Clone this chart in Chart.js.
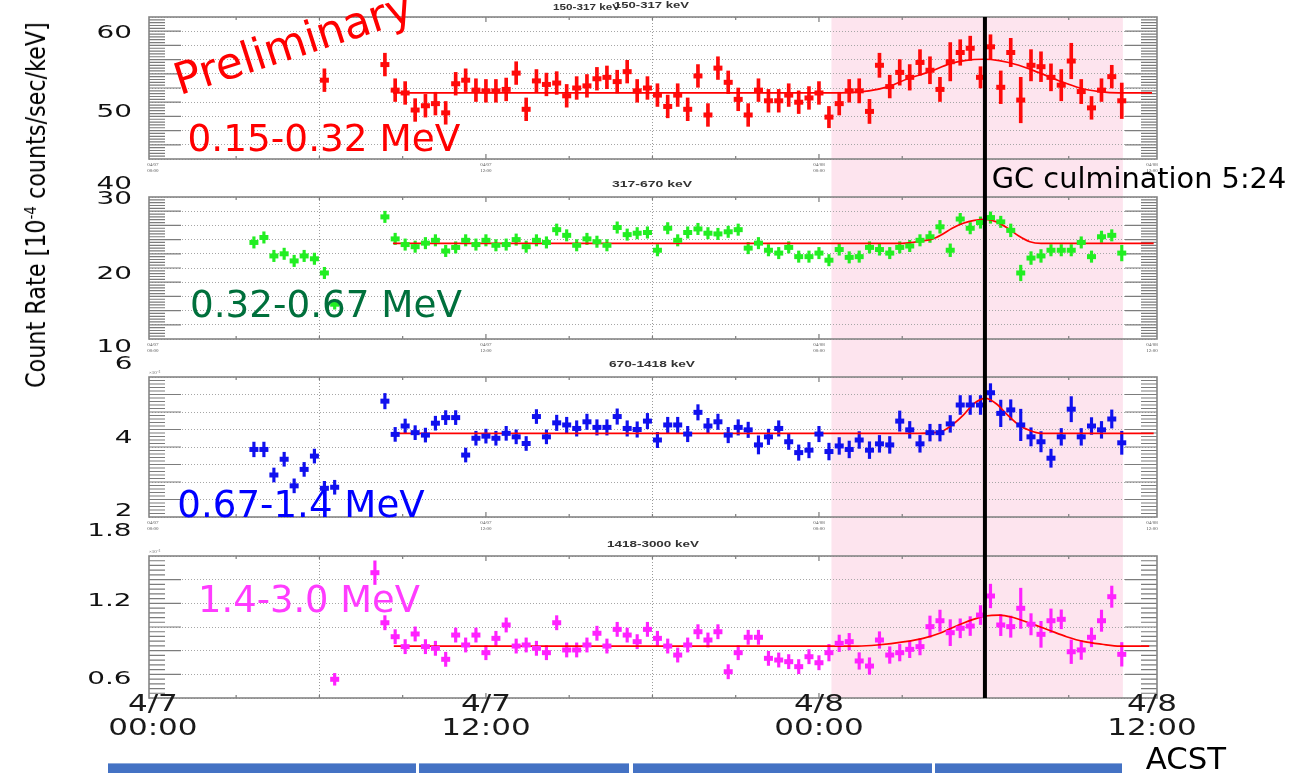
<!DOCTYPE html>
<html>
<head>
<meta charset="utf-8">
<script src="https://cdn.jsdelivr.net/npm/chart.js@4/dist/chart.umd.min.js"></script>
<style>
  html, body { margin: 0; padding: 0; background: #fff; }
  #wrap { position: relative; width: 1306px; height: 773px; overflow: hidden; background: #fff; }
  #wrap canvas { position: absolute; left: 0; }
  .ov { position: absolute; left: 0; top: 0; white-space: nowrap; line-height: 1; }
  .ov sup { font-size: 0.6em; vertical-align: 0.55em; line-height: 0; }
  .band { position: absolute; top: 763px; height: 10px; background: #4472c4; border-top: 1px solid #8eaadb; box-sizing: border-box; }
</style>
</head>
<body>
<div id="wrap">
  <canvas id="p1" width="1306" height="180" style="top:0px"></canvas>
  <canvas id="p2" width="1306" height="180" style="top:180px"></canvas>
  <canvas id="p3" width="1306" height="180" style="top:360px"></canvas>
  <canvas id="p4" width="1306" height="233" style="top:540px"></canvas>
</div>
<script>
// time bins, hours after 4/7 00:00 ACST
const hours = [
  3.64, 4.00, 4.36, 4.73, 5.09, 5.45, 5.82, 6.18, 6.55, 6.91,
  7.27, 7.64, 8.00, 8.36, 8.73, 9.09, 9.45, 9.82, 10.18, 10.55,
  10.91, 11.27, 11.64, 12.00, 12.36, 12.73, 13.09, 13.45, 13.82, 14.18,
  14.55, 14.91, 15.27, 15.64, 16.00, 16.36, 16.73, 17.09, 17.45, 17.82,
  18.18, 18.55, 18.91, 19.27, 19.64, 20.00, 20.36, 20.73, 21.09, 21.45,
  21.82, 22.18, 22.55, 22.91, 23.27, 23.64, 24.00, 24.36, 24.73, 25.09,
  25.45, 25.82, 26.18, 26.55, 26.91, 27.27, 27.64, 28.00, 28.36, 28.73,
  29.09, 29.45, 29.82, 30.18, 30.55, 30.91, 31.27, 31.64, 32.00, 32.36,
  32.73, 33.09, 33.45, 33.82, 34.18, 34.55, 34.91
];

// 0.15-0.32 MeV (150-317 keV)
const rate1 = [
  null, null, null, null, null, null, null, 53.1, null, null,
  null, null, null, 55.3, 51.7, 51.3, 48.9, 49.5, 49.8, 48.5,
  52.6, 53.1, 51.7, 51.6, 51.6, 51.8, 54.1, 49.0, 53.0, 52.5,
  52.7, 50.9, 52.0, 52.3, 53.3, 53.5, 52.9, 54.3, 51.6, 52.0,
  51.0, 49.4, 51.0, 49.0, 53.7, 48.2, 54.8, 52.8, 50.4, 48.2,
  51.7, 50.2, 50.2, 51.0, 50.0, 50.6, 51.3, 47.9, 49.8, 51.6,
  51.6, 48.7, 55.2, 52.2, 54.2, 53.5, 55.6, 54.5, 51.8, 55.7,
  57.0, 57.6, 53.5, 57.8, 52.1, 57.0, 50.3, 55.2, 55.0, 53.5,
  52.4, 55.8, 51.5, 49.2, 51.7, 53.6, 50.2
];
const err1 = [
  null, null, null, null, null, null, null, 1.6, null, null,
  null, null, null, 1.6, 1.6, 1.6, 1.6, 1.6, 1.6, 1.6,
  1.6, 1.6, 1.6, 1.6, 1.6, 1.6, 1.6, 1.6, 1.6, 1.6,
  1.6, 1.6, 1.6, 1.6, 1.6, 1.6, 1.6, 1.6, 1.6, 1.6,
  1.6, 1.6, 1.6, 1.6, 1.6, 1.6, 1.6, 1.6, 1.6, 1.6,
  1.6, 1.6, 1.6, 1.6, 1.6, 1.6, 1.6, 1.5, 1.6, 1.6,
  1.7, 1.7, 1.7, 1.6, 1.8, 1.8, 1.8, 1.9, 1.7, 2.7,
  1.8, 1.7, 1.5, 1.7, 2.3, 2.0, 3.2, 2.2, 2.1, 1.9,
  2.2, 2.5, 1.7, 1.6, 1.6, 1.6, 2.5
];
const fit1Hours = [8.65, 24.0, 25.0, 25.8, 26.5, 27.2, 28.0, 28.7, 29.3, 29.9, 30.5, 31.2, 31.9, 32.6, 33.4, 34.1, 34.8, 36.0];
const fit1Values = [51.3, 51.3, 51.35, 51.6, 52.2, 53.3, 54.3, 55.4, 55.9, 56.05, 55.85, 55.2, 54.2, 53.1, 52.0, 51.5, 51.3, 51.3];

// 0.32-0.67 MeV (317-670 keV)
const rate2 = [
  23.6, 24.3, 21.7, 22.0, 21.0, 21.7, 21.3, 19.3, 14.9, null,
  null, null, null, 27.2, 24.1, 23.3, 23.0, 23.5, 23.9, 22.4,
  22.9, 23.9, 23.3, 23.9, 23.2, 23.3, 24.0, 23.0, 23.9, 23.6,
  25.4, 24.6, 23.2, 24.1, 23.7, 23.2, 25.7, 24.7, 24.9, 25.0,
  22.5, 25.6, 23.9, 25.0, 25.5, 24.9, 24.8, 25.1, 25.4, 22.8,
  23.5, 22.5, 22.1, 22.9, 21.6, 21.6, 22.1, 21.1, 22.6, 21.5,
  21.6, 22.9, 22.6, 22.1, 22.9, 23.1, 23.9, 24.4, 25.8, 22.5,
  26.9, 25.6, 26.4, 27.1, 26.5, 25.3, 19.3, 21.4, 21.7, 22.5,
  22.5, 22.5, 23.6, 21.6, 24.4, 24.6, 22.1
];
const err2 = [
  0.8, 0.8, 0.8, 0.8, 0.8, 0.8, 0.8, 0.8, 0.7, null,
  null, null, null, 0.8, 0.8, 0.8, 0.8, 0.8, 0.8, 0.8,
  0.8, 0.8, 0.8, 0.8, 0.8, 0.8, 0.8, 0.8, 0.8, 0.8,
  0.8, 0.8, 0.8, 0.8, 0.8, 0.8, 0.8, 0.8, 0.8, 0.8,
  0.8, 0.8, 0.8, 0.8, 0.8, 0.8, 0.8, 0.8, 0.8, 0.8,
  0.8, 0.8, 0.8, 0.8, 0.8, 0.8, 0.8, 0.8, 0.8, 0.8,
  0.8, 0.8, 0.8, 0.8, 0.8, 0.8, 0.8, 0.8, 0.9, 0.9,
  0.8, 0.8, 0.8, 0.8, 0.8, 0.9, 1.1, 0.9, 0.9, 0.8,
  0.8, 0.8, 0.8, 0.8, 0.8, 0.8, 1.1
];
const fit2Hours = [8.65, 27.0, 27.7, 28.1, 28.4, 28.8, 29.2, 29.6, 30.0, 30.4, 30.8, 31.2, 31.6, 32.0, 36.06];
const fit2Values = [23.48, 23.48, 23.8, 24.1, 24.65, 25.6, 26.3, 26.7, 26.86, 26.5, 25.6, 24.5, 23.7, 23.48, 23.48];

// 0.67-1.4 MeV (670-1418 keV)
const rate3 = [
  3.93, 3.93, 3.20, 3.65, 2.89, 3.36, 3.74, 2.82, 2.85, null,
  null, null, null, 5.31, 4.36, 4.60, 4.41, 4.34, 4.68, 4.84,
  4.84, 3.77, 4.25, 4.31, 4.25, 4.39, 4.29, 4.10, 4.87, 4.29,
  4.69, 4.63, 4.53, 4.72, 4.56, 4.56, 4.87, 4.53, 4.50, 4.74,
  4.20, 4.63, 4.63, 4.37, 4.99, 4.60, 4.72, 4.34, 4.56, 4.49,
  4.06, 4.29, 4.53, 4.15, 3.84, 3.91, 4.37, 3.87, 4.03, 3.93,
  4.20, 3.91, 4.09, 4.06, 4.74, 4.49, 4.09, 4.41, 4.41, 4.66,
  5.20, 5.20, 5.20, 5.55, 4.96, 5.06, 4.63, 4.29, 4.15, 3.68,
  4.29, 5.08, 4.29, 4.60, 4.49, 4.80, 4.12
];
const err3 = [
  0.21, 0.21, 0.2, 0.2, 0.2, 0.2, 0.2, 0.2, 0.2, null,
  null, null, null, 0.22, 0.2, 0.2, 0.2, 0.2, 0.2, 0.2,
  0.2, 0.2, 0.2, 0.2, 0.2, 0.2, 0.2, 0.2, 0.2, 0.2,
  0.22, 0.22, 0.22, 0.22, 0.22, 0.22, 0.22, 0.22, 0.22, 0.22,
  0.22, 0.22, 0.22, 0.22, 0.22, 0.22, 0.22, 0.22, 0.22, 0.22,
  0.26, 0.22, 0.22, 0.22, 0.22, 0.22, 0.22, 0.24, 0.24, 0.24,
  0.24, 0.24, 0.24, 0.24, 0.29, 0.24, 0.24, 0.24, 0.24, 0.24,
  0.27, 0.27, 0.27, 0.26, 0.38, 0.29, 0.45, 0.26, 0.29, 0.26,
  0.24, 0.36, 0.24, 0.24, 0.24, 0.26, 0.33
];
const fit3Hours = [8.65, 27.6, 28.4, 28.8, 29.2, 29.6, 30.0, 30.4, 30.8, 31.2, 31.6, 32.0, 36.06];
const fit3Values = [4.39, 4.39, 4.44, 4.63, 4.91, 5.25, 5.39, 5.23, 4.91, 4.63, 4.47, 4.39, 4.39];

// 1.4-3.0 MeV (1418-3000 keV)
const rate4 = [
  null, null, null, null, null, null, null, null, 0.558, null,
  null, null, 1.459, 1.036, 0.918, 0.834, 0.941, 0.834, 0.820, 0.727,
  0.932, 0.848, 0.932, 0.783, 0.904, 1.017, 0.839, 0.848, 0.820, 0.783,
  1.036, 0.806, 0.806, 0.848, 0.947, 0.839, 0.980, 0.932, 0.876, 0.980,
  0.904, 0.839, 0.763, 0.848, 0.960, 0.890, 0.960, 0.622, 0.783, 0.913,
  0.913, 0.735, 0.721, 0.707, 0.665, 0.749, 0.698, 0.783, 0.862, 0.876,
  0.713, 0.670, 0.890, 0.763, 0.783, 0.811, 0.834, 1.003, 1.053, 0.952,
  0.989, 1.008, 1.101, 1.262, 1.017, 1.003, 1.158, 1.023, 0.938, 1.053,
  1.065, 0.791, 0.806, 0.913, 1.053, 1.256, 0.769
];
const err4 = [
  null, null, null, null, null, null, null, null, 0.05, null,
  null, null, 0.1, 0.06, 0.06, 0.06, 0.06, 0.06, 0.06, 0.06,
  0.06, 0.06, 0.06, 0.06, 0.06, 0.06, 0.06, 0.06, 0.06, 0.06,
  0.06, 0.06, 0.06, 0.06, 0.06, 0.06, 0.06, 0.06, 0.06, 0.06,
  0.06, 0.06, 0.06, 0.06, 0.06, 0.06, 0.06, 0.06, 0.06, 0.06,
  0.06, 0.06, 0.06, 0.06, 0.06, 0.06, 0.06, 0.07, 0.07, 0.07,
  0.07, 0.07, 0.07, 0.07, 0.07, 0.07, 0.07, 0.09, 0.09, 0.11,
  0.08, 0.08, 0.08, 0.1, 0.09, 0.09, 0.17, 0.09, 0.11, 0.1,
  0.08, 0.1, 0.08, 0.08, 0.09, 0.09, 0.1
];
const fit4Hours = [8.68, 25.4, 26.1, 27.1, 27.75, 28.4, 29.03, 29.68, 30.0, 30.49, 30.97, 31.62, 32.27, 32.92, 33.56, 34.2, 34.85, 35.9];
const fit4Values = [0.839, 0.839, 0.848, 0.876, 0.904, 0.952, 1.017, 1.073, 1.093, 1.101, 1.082, 1.031, 0.975, 0.918, 0.876, 0.854, 0.839, 0.839];

// time axis
const tickHours = [0, 12, 24, 36];
const smallTickLabels = [['04/07', '00:00'], ['04/07', '12:00'], ['04/08', '00:00'], ['04/08', '12:00']];
const bigTickLabels = [['4/7', '00:00'], ['4/7', '12:00'], ['4/8', '00:00'], ['4/8', '12:00']];
const minorTickHours = [3, 6, 9, 12, 15, 18, 21, 24, 27, 30, 33];
const pinkStart = 24.45, pinkEnd = 34.95;   // shaded window
const culmination = 29.98;                  // GC culmination marker

const panelDecor = {
  id: 'panelDecor',
  beforeDraw(chart, args, o) {
    const {ctx, chartArea: a, scales: {x}} = chart;
    const x1 = x.getPixelForValue(pinkStart), x2 = x.getPixelForValue(pinkEnd);
    const top = o.extendTop ? 0 : a.top;
    const bottom = o.extendBottom ? chart.height : a.bottom;
    ctx.save();
    ctx.fillStyle = '#fde4ee';
    ctx.fillRect(x1, top, x2 - x1, bottom - top);
    ctx.restore();
  },
  beforeDatasetsDraw(chart, args, o) {
    const {ctx, chartArea: a, scales: {x, y}} = chart;
    ctx.save();
    ctx.strokeStyle = '#7c7c7c';
    ctx.lineWidth = 1.2;
    ctx.beginPath();
    // inside tick marks, 5 small per grid step
    const n = Math.round((y.max - y.min) / o.step) * 5;
    for (let j = 1; j < n; j++) {
      const py = y.getPixelForValue(y.min + (y.max - y.min) * j / n);
      const len = j % 5 === 0 ? 32 : 16;
      ctx.moveTo(a.left, py); ctx.lineTo(a.left + len, py);
      ctx.moveTo(a.right - len, py); ctx.lineTo(a.right, py);
    }
    minorTickHours.forEach(h => {
      const px = x.getPixelForValue(h);
      const len = h % 12 === 0 ? 5 : 3;
      ctx.moveTo(px, a.top); ctx.lineTo(px, a.top + len);
      ctx.moveTo(px, a.bottom); ctx.lineTo(px, a.bottom - len);
    });
    ctx.stroke();
    ctx.lineWidth = 1.6;
    ctx.strokeStyle = '#858585';
    ctx.strokeRect(a.left, a.top, a.right - a.left, a.bottom - a.top);
    ctx.restore();
  },
  afterDatasetsDraw(chart, args, o) {
    const {ctx, chartArea: a, scales: {x}} = chart;
    const px = x.getPixelForValue(culmination);
    ctx.save();
    ctx.strokeStyle = '#000';
    ctx.lineWidth = 4;
    ctx.beginPath();
    ctx.moveTo(px, o.extendTop ? 0 : a.top);
    ctx.lineTo(px, o.extendBottom ? chart.height : a.bottom);
    ctx.stroke();
    ctx.restore();
  },
  afterDraw(chart, args, o) {
    const {ctx, chartArea: a, scales: {x}} = chart;
    ctx.save();
    ctx.fillStyle = '#333';
    ctx.font = 'bold 9px "Liberation Sans", Arial, sans-serif';
    ctx.textBaseline = 'middle';
    (o.titles || []).forEach(t => {
      const w = ctx.measureText(t.text).width;
      ctx.save();
      ctx.translate(t.x, t.y);
      ctx.scale(t.w / w, 1);
      ctx.fillText(t.text, 0, 0);
      ctx.restore();
    });
    if (o.exponent) {
      ctx.font = '5px "Liberation Serif", serif';
      ctx.fillStyle = '#666';
      ctx.fillText(o.exponent, a.left, a.top - 4);
    }
    if (o.bigLabels) {
      ctx.font = '23px "DejaVu Sans", sans-serif';
      ctx.fillStyle = '#1a1a1a';
      ctx.textAlign = 'center';
      tickHours.forEach((h, i) => {
        ctx.save();
        ctx.translate(x.getPixelForValue(h), a.bottom + 7);
        ctx.scale(1.35, 1);
        ctx.fillText(o.bigLabels[i][0], 0, 0);
        ctx.fillText(o.bigLabels[i][1], 0, 24);
        ctx.restore();
      });
    }
    ctx.restore();
  }
};

function makePanel(canvasId, p) {
  const bars = [], marks = [];
  hours.forEach((h, i) => {
    if (p.values[i] == null) return;
    bars.push({x: h, y: [p.values[i] - p.errors[i], p.values[i] + p.errors[i]]});
    marks.push({x: h, y: p.values[i]});
  });
  const fit = p.fitHours.map((h, i) => ({x: h, y: p.fitValues[i]}));

  return new Chart(document.getElementById(canvasId), {
    type: 'scatter',
    data: {
      datasets: [
        { type: 'bar', data: bars, backgroundColor: p.color, borderWidth: 0, barThickness: p.barWidth, order: 2 },
        { type: 'line', data: fit, borderColor: '#ff0000', borderWidth: 1.7, pointRadius: 0,
          cubicInterpolationMode: 'monotone', fill: false, order: 1 },
        { type: 'scatter', data: marks, pointStyle: 'line', pointRadius: 4.5, pointBorderWidth: 5,
          pointBorderColor: p.color, pointBackgroundColor: p.color, borderColor: p.color, order: 0 }
      ]
    },
    options: {
      responsive: false,
      animation: false,
      events: [],
      layout: { padding: { top: p.padTop, right: 149, bottom: 0, left: 0 } },
      plugins: {
        legend: { display: false },
        tooltip: { enabled: false },
        panelDecor: {
          step: p.step, extendTop: p.extendTop, extendBottom: p.extendBottom,
          titles: p.titles, exponent: p.exponent, bigLabels: p.bigLabels
        }
      },
      scales: {
        x: {
          type: 'linear', min: -0.14, max: 36.18, offset: false,
          afterBuildTicks: s => { s.ticks = tickHours.map(v => ({value: v})); },
          afterFit: s => { s.height = p.xHeight; },
          grid: {
            drawTicks: false, lineWidth: 1,
            color: c => (c.tick && (c.tick.value === 12 || c.tick.value === 24)) ? '#9a9a9a' : 'rgba(0,0,0,0)'
          },
          border: { display: false, dash: [1, 2] },
          ticks: {
            display: !p.bigLabels, autoSkip: false, maxRotation: 0, padding: 3, color: '#555',
            font: { family: 'Liberation Serif', size: 5, lineHeight: 1.2 },
            callback: (v, i) => smallTickLabels[i]
          }
        },
        y: {
          min: p.yMin, max: p.yMax,
          afterFit: s => { s.width = 149; },
          ticks: { display: false, stepSize: p.step },
          grid: { drawTicks: false, color: '#a6a6a6', lineWidth: 1 },
          border: { display: false, dash: [1, 2] }
        }
      }
    },
    plugins: [panelDecor]
  });
}

makePanel('p1', {
  values: rate1, errors: err1, fitHours: fit1Hours, fitValues: fit1Values, color: '#ff0a0a', barWidth: 3,
  yMin: 42, yMax: 62, step: 2, padTop: 17, xHeight: 21, extendTop: false, extendBottom: true,
  titles: [{text: '150-317 keV', x: 553, y: 8, w: 67}, {text: '150-317 keV', x: 614, y: 6, w: 75}]
});
makePanel('p2', {
  values: rate2, errors: err2, fitHours: fit2Hours, fitValues: fit2Values, color: '#22ee22', barWidth: 2.5,
  yMin: 10, yMax: 30, step: 2, padTop: 17, xHeight: 21, extendTop: true, extendBottom: true,
  titles: [{text: '317-670 keV', x: 612, y: 5, w: 80}]
});
makePanel('p3', {
  values: rate3, errors: err3, fitHours: fit3Hours, fitValues: fit3Values, color: '#1010ee', barWidth: 2.5,
  yMin: 2, yMax: 6, step: 0.5, padTop: 17, xHeight: 23, extendTop: true, extendBottom: true,
  titles: [{text: '670-1418 keV', x: 609, y: 5, w: 86}], exponent: '\u00d710\u207b\u00b3'
});
makePanel('p4', {
  values: rate4, errors: err4, fitHours: fit4Hours, fitValues: fit4Values, color: '#ff22ff', barWidth: 2.5,
  yMin: 0.4, yMax: 1.6, step: 0.2, padTop: 16, xHeight: 75, extendTop: true, extendBottom: false,
  titles: [{text: '1418-3000 keV', x: 607, y: 5, w: 92}], exponent: '\u00d710\u207b\u00b3',
  bigLabels: bigTickLabels
});

// slide overlays
const wrap = document.getElementById('wrap');
function overlay(html, o) {
  const el = document.createElement('div');
  el.className = 'ov';
  el.innerHTML = html;
  el.style.font = o.font;
  el.style.color = o.color || '#000';
  wrap.appendChild(el);
  const s = o.width ? o.width / el.offsetWidth : 1;
  el.style.left = o.cx + 'px';
  el.style.top = o.cy + 'px';
  el.style.transform = 'translate(-50%, -50%) rotate(' + (o.angle || 0) + 'deg) scaleX(' + s + ')';
  return el;
}
function axisNumber(text, cy) {
  const el = document.createElement('div');
  el.className = 'ov';
  el.textContent = text;
  el.style.font = '18px/1 "DejaVu Sans", sans-serif';
  el.style.color = '#111';
  wrap.appendChild(el);
  el.style.left = (132 - el.offsetWidth) + 'px';
  el.style.top = (cy - el.offsetHeight / 2) + 'px';
  el.style.transformOrigin = '100% 50%';
  el.style.transform = 'scaleX(1.55)';
}

overlay('Count Rate [10<sup>-4</sup> counts/sec/keV]',
  {cx: 36, cy: 205, angle: -90, width: 366, font: '26px/1 "DejaVu Sans", sans-serif'});
overlay('Preliminary',
  {cx: 293, cy: 43, angle: -17.9, width: 247, font: '44px/1 "DejaVu Sans", sans-serif', color: '#ff0000'});
overlay('0.15-0.32 MeV', {cx: 324, cy: 138, width: 273, font: '37px/1 "DejaVu Sans", sans-serif', color: '#ff0000'});
overlay('0.32-0.67 MeV', {cx: 326, cy: 304, width: 272, font: '37px/1 "DejaVu Sans", sans-serif', color: '#00703c'});
overlay('0.67-1.4 MeV', {cx: 301, cy: 504, width: 247, font: '37px/1 "DejaVu Sans", sans-serif', color: '#0000ff'});
overlay('1.4-3.0 MeV', {cx: 309, cy: 599, width: 222, font: '37px/1 "DejaVu Sans", sans-serif', color: '#ff3cff'});
overlay('GC culmination 5:24', {cx: 1139, cy: 179, width: 294, font: '28px/1 "DejaVu Sans", sans-serif'});
overlay('ACST', {cx: 1186, cy: 759, width: 80, font: '30px/1 "DejaVu Sans", sans-serif'});

[['60', 32], ['50', 111], ['40', 183], ['30', 198], ['20', 273], ['10', 346],
 ['6', 363], ['4', 437], ['2', 510], ['1.8', 530], ['1.2', 600], ['0.6', 678]]
  .forEach(([t, cy]) => axisNumber(t, cy));

[[108, 416], [419, 629], [633, 932], [935, 1122]].forEach(([l, r]) => {
  const b = document.createElement('div');
  b.className = 'band';
  b.style.left = l + 'px';
  b.style.width = (r - l) + 'px';
  wrap.appendChild(b);
});
</script>
</body>
</html>
